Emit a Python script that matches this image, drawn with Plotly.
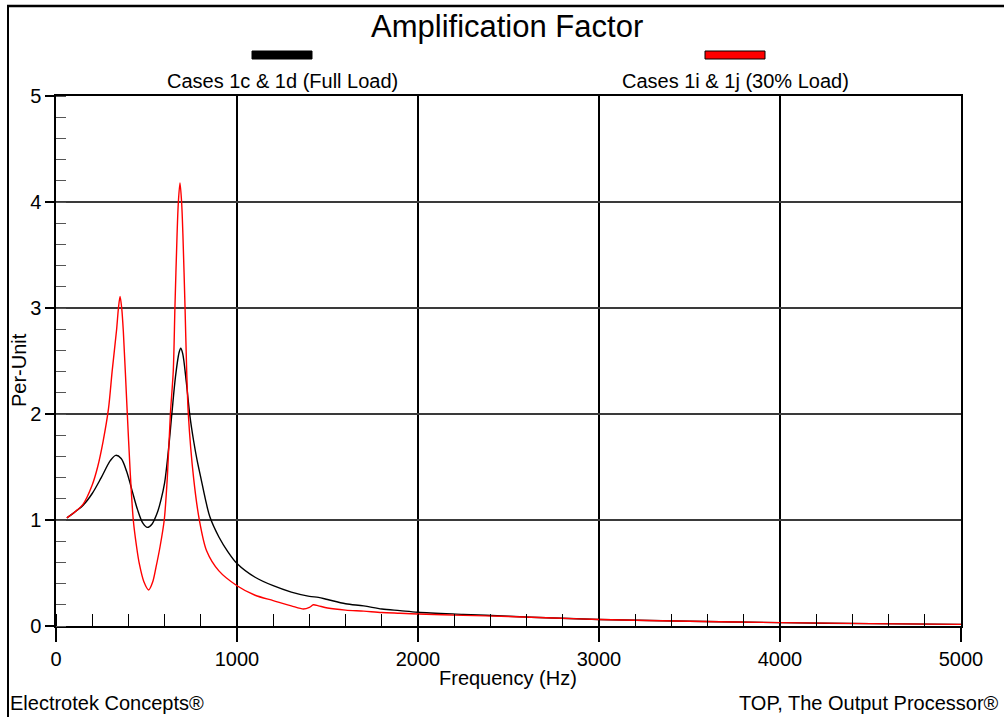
import plotly.graph_objects as go

# ---- data ----
series_names = ["Cases 1c & 1d (Full Load)", "Cases 1i & 1j (30% Load)"]
series_colors = ["#000000", "#ff0000"]

full_freq = [60, 100, 150, 200, 250, 300, 330, 360, 390, 420, 450, 480, 505, 530, 560,
             580, 600, 620, 640, 660, 680, 689, 700, 720, 740, 760, 780, 800, 825, 850, 900,
             950, 1000, 1100, 1200, 1300, 1400, 1450, 1500, 1600, 1700, 1800, 1900, 2000,
             2250, 2500, 2750, 3000, 3500, 4000, 4500, 5000]
full_amp = [1.02, 1.07, 1.14, 1.25, 1.40, 1.56, 1.61, 1.58, 1.46, 1.28, 1.10, 0.97, 0.93, 0.96, 1.07,
            1.19, 1.35, 1.64, 2.00, 2.35, 2.58, 2.62, 2.57, 2.30, 1.98, 1.75, 1.56, 1.40, 1.20, 1.03, 0.84,
            0.70, 0.59, 0.46, 0.38, 0.32, 0.28, 0.27, 0.25, 0.21, 0.19, 0.16, 0.145, 0.13,
            0.11, 0.092, 0.075, 0.062, 0.045, 0.032, 0.022, 0.015]

low_freq = [60, 100, 150, 200, 230, 260, 290, 310, 335, 345, 354, 363, 372, 394, 410,
            427, 445, 460, 485, 512, 535, 552, 575, 598, 615, 632, 648, 657, 669, 676,
            685, 694, 701, 713, 722, 731, 760, 792, 832, 900, 1000, 1100, 1200, 1300, 1367,
            1400, 1422, 1450, 1500, 1600, 1700, 1800, 1900, 2000, 2250, 2500, 2750, 3000,
            3500, 4000, 4500, 5000]
low_amp = [1.02, 1.07, 1.15, 1.33, 1.50, 1.74, 2.05, 2.40, 2.80, 3.00, 3.11, 3.00, 2.78, 2.00, 1.45,
           1.00, 0.75, 0.59, 0.42, 0.34, 0.42, 0.55, 0.75, 1.00, 1.40, 2.00, 2.41, 3.00, 3.70, 4.00,
           4.18, 4.00, 3.70, 3.00, 2.41, 2.00, 1.40, 1.00, 0.71, 0.52, 0.38, 0.29, 0.24, 0.19, 0.16,
           0.175, 0.20, 0.19, 0.17, 0.15, 0.14, 0.127, 0.12, 0.113, 0.10, 0.09, 0.075, 0.062,
           0.045, 0.032, 0.022, 0.015]

x_ticks = [0, 1000, 2000, 3000, 4000, 5000]
y_ticks = [0, 1, 2, 3, 4, 5]

FONT = "Arial, Liberation Sans, sans-serif"

fig = go.Figure()
fig.add_trace(go.Scatter(x=full_freq, y=full_amp, mode="lines", name=series_names[0],
                         line=dict(color=series_colors[0], width=1.4, shape="spline", smoothing=0.9)))
fig.add_trace(go.Scatter(x=low_freq, y=low_amp, mode="lines", name=series_names[1],
                         line=dict(color=series_colors[1], width=1.4, shape="spline", smoothing=0.8)))

W, H = 1004, 717
L, R, T, B = 56, 43, 96, 91
pw, ph = W - L - R, H - T - B

def px(xp):
    return (xp - L) / pw

def py(yp):
    return (H - B - yp) / ph

shapes = []
annotations = []
# legend swatches and labels
for name, color, cx in zip(series_names, series_colors, [282, 735]):
    shapes.append(dict(type="rect", xref="paper", yref="paper",
                       x0=px(cx - 30), x1=px(cx + 30), y0=py(59), y1=py(51),
                       fillcolor=color, line=dict(color="#000000", width=1)))
    annotations.append(dict(text=name, xref="paper", yref="paper", x=px(cx), y=py(81),
                            xanchor="center", yanchor="middle", showarrow=False,
                            font=dict(family=FONT, size=20, color="#000")))
# frame
shapes.append(dict(type="line", xref="paper", yref="paper", x0=px(8), x1=px(8), y0=py(6), y1=py(720),
                   line=dict(color="#000", width=2)))
shapes.append(dict(type="line", xref="paper", yref="paper", x0=px(7), x1=px(1010), y0=py(6), y1=py(6),
                   line=dict(color="#000", width=2.5)))

annotations += [
    dict(text="Amplification Factor", xref="paper", yref="paper", x=px(507), y=py(27),
         xanchor="center", yanchor="middle", showarrow=False, font=dict(family=FONT, size=31, color="#000")),
    dict(text="Frequency (Hz)", xref="paper", yref="paper", x=px(508), y=py(678),
         xanchor="center", yanchor="middle", showarrow=False, font=dict(family=FONT, size=20, color="#000")),
    dict(text="Per-Unit", xref="paper", yref="paper", x=px(19), y=py(370), textangle=-90,
         xanchor="center", yanchor="middle", showarrow=False, font=dict(family=FONT, size=20, color="#000")),
    dict(text="Electrotek Concepts®", xref="paper", yref="paper", x=px(8), y=py(703),
         xanchor="left", yanchor="middle", showarrow=False, font=dict(family=FONT, size=20, color="#000")),
    dict(text="TOP, The Output Processor®", xref="paper", yref="paper", x=px(1001), y=py(703),
         xanchor="right", yanchor="middle", showarrow=False, font=dict(family=FONT, size=20, color="#000")),
]

fig.update_layout(
    width=W, height=H,
    margin=dict(l=L, r=R, t=T, b=B, pad=0),
    paper_bgcolor="white", plot_bgcolor="white",
    showlegend=False,
    font=dict(family=FONT, size=20, color="#000"),
    shapes=shapes, annotations=annotations,
    xaxis=dict(range=[0, 5000], tickvals=x_ticks, ticktext=[str(v) for v in x_ticks],
               ticks="outside", ticklen=14, tickwidth=1.5, tickcolor="#000",
               showgrid=True, gridcolor="#000", gridwidth=1.5,
               showline=True, linecolor="#000", linewidth=1.5, mirror=True,
               zeroline=False, tickfont=dict(size=20),
               minor=dict(dtick=200, tick0=0, ticks="inside", ticklen=12, tickwidth=1.2,
                          tickcolor="#000", showgrid=False)),
    yaxis=dict(range=[0, 5], tickvals=y_ticks, ticktext=[str(v) for v in y_ticks],
               ticks="outside", ticklen=9, tickwidth=1.5, tickcolor="#000",
               showgrid=True, gridcolor="#3a3a3a", gridwidth=1.5,
               showline=True, linecolor="#000", linewidth=1.5, mirror=True,
               zeroline=False, tickfont=dict(size=20),
               minor=dict(dtick=0.2, tick0=0, ticks="inside", ticklen=10, tickwidth=1.2,
                          tickcolor="#555", showgrid=False)),
)

fig.write_html("out.html")
